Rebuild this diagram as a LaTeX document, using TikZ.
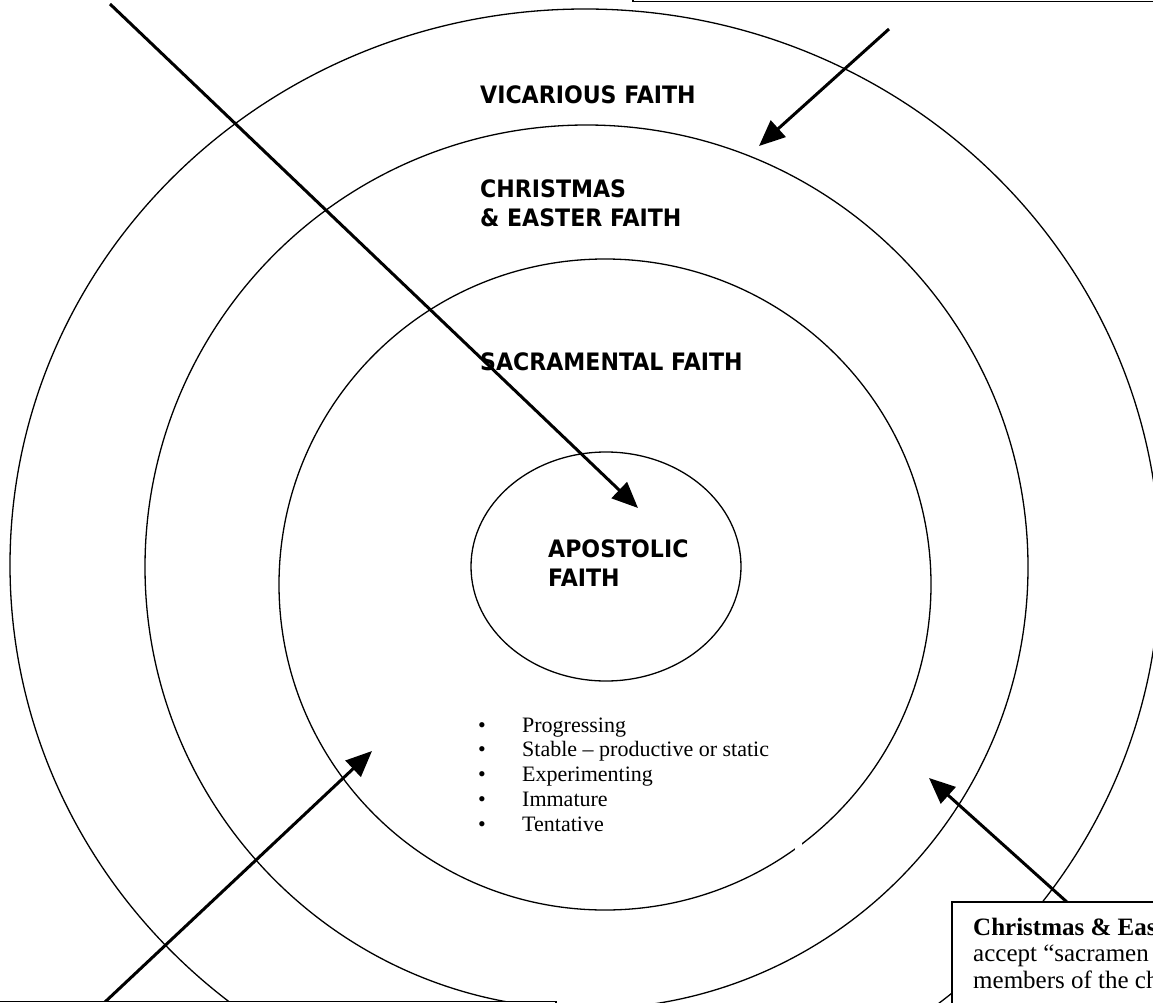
\documentclass[tikz,border=0pt]{standalone}
\usepackage{fontspec}
\setmainfont{Liberation Serif}
\newfontfamily\lblfont[FakeStretch=0.92]{DejaVu Sans}
\usetikzlibrary{arrows.meta}
\begin{document}
\begin{tikzpicture}[x=1pt,y=-1pt,
  ring/.style={draw=black, line width=1.3pt},
  pointer/.style={draw=black, line width=3pt, -{Triangle[length=26pt,width=22pt]}},
  lbl/.style={font={\lblfont\bfseries\fontsize{24}{29}\selectfont}, anchor=base west, inner sep=0pt, align=left},
  listtxt/.style={font={\fontsize{22}{24.7}\selectfont}, anchor=base west, inner sep=0pt, align=left},
  boxtxt/.style={font={\fontsize{25}{26.5}\selectfont}, anchor=base west, inner sep=0pt, align=left},
  callout/.style={draw=black, line width=1.6pt, fill=white},
]
\useasboundingbox (0,0) rectangle (1153,1003);
\clip (0,0) rectangle (1153,1003);

% rings
\draw[ring] (585,565) ellipse [x radius=575pt, y radius=556pt];
\draw[ring] (586.5,567) ellipse [x radius=441.5pt, y radius=442pt];
\draw[ring] (605,584.5) ellipse [x radius=326pt, y radius=325.5pt];
\draw[ring] (606,566.5) ellipse [x radius=135pt, y radius=114.5pt];
\fill[white] (795,843) rectangle (802,850);

% labels (anchor = baseline of last line)
\node[lbl] (vic) at (480,104) {VICARIOUS FAITH};
\node[lbl] (chr) at (480,226) {CHRISTMAS\\\& EASTER FAITH};
\node[lbl] (sac) at (480,370) {SACRAMENTAL FAITH};
\node[lbl] (apo) at (548,586) {APOSTOLIC\\FAITH};

\node[listtxt] (list) at (478,831) {%
\makebox[44pt][l]{•}Progressing\\
\makebox[44pt][l]{•}Stable – productive or static\\
\makebox[44pt][l]{•}Experimenting\\
\makebox[44pt][l]{•}Immature\\
\makebox[44pt][l]{•}Tentative};

% arrows
\coordinate (a1s) at (110,4);
\coordinate (a1e) at (638,508);
\coordinate (a2s) at (889,29);
\coordinate (a2e) at (759,146);
\coordinate (a3s) at (105,1002);
\coordinate (a3e) at (372,751);
\coordinate (a4s) at (1068,903);
\coordinate (a4e) at (929,778);
\draw[pointer] (a1s) -- (a1e);
\draw[pointer] (a2s) -- (a2e);
\draw[pointer] (a3s) -- (a3e);
\draw[pointer] (a4s) -- (a4e);

% callout boxes (cropped)
\draw[callout] (633,-60) rectangle (1220,1.5);
\draw[callout] (-20,1001.5) rectangle (556,1080);
\draw[callout] (952,902) rectangle (1220,1080);
\node[boxtxt] (cetext) at (973,988) {\textbf{Christmas \& East}\\accept “sacramen\\members of the ch};
\end{tikzpicture}
\end{document}
